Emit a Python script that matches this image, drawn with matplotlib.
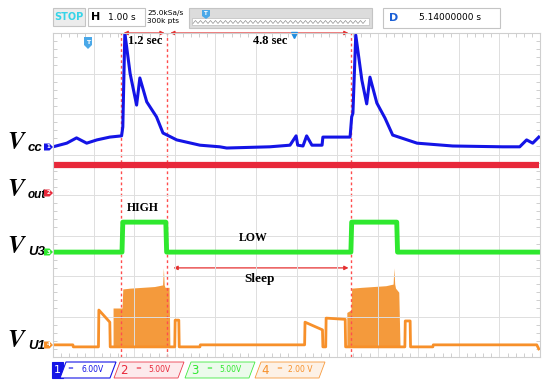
import matplotlib.pyplot as plt
from matplotlib.patches import Rectangle, Polygon, FancyArrowPatch
import numpy as np

# time in s (1 s/div, 12 div); levels in screen divisions (0..8)
vcc_t = [0, 0.34, 0.58, 0.83, 1.08, 1.40, 1.69, 1.72, 1.77, 1.90, 2.06, 2.14, 2.31, 2.55,
         2.71, 3.05, 3.62, 4.11, 4.28, 5.34, 5.84, 5.99, 6.03, 6.16, 6.25, 6.38, 6.63, 6.65,
         7.32, 7.36, 7.39, 7.46, 7.61, 7.73, 7.81, 7.98, 8.18, 8.37, 8.97, 9.85, 11.08, 11.50,
         11.67, 11.82, 11.97]
vcc_v = [5.19, 5.28, 5.41, 5.28, 5.36, 5.43, 5.46, 5.68, 8.00, 7.00, 6.22, 6.89, 6.30, 5.93,
         5.53, 5.36, 5.23, 5.19, 5.16, 5.19, 5.23, 5.46, 5.23, 5.21, 5.46, 5.23, 5.23, 5.43,
         5.43, 5.93, 6.02, 7.95, 6.84, 6.25, 6.91, 6.27, 5.90, 5.48, 5.28, 5.21, 5.19, 5.19,
         5.36, 5.28, 5.43]

vout_t = [0, 11.97]
vout_v = [4.74, 4.74]

u3_t = [0, 1.70, 1.72, 2.78, 2.80, 7.34, 7.36, 8.47, 8.49, 11.97]
u3_v = [2.59, 2.59, 3.33, 3.33, 2.59, 2.59, 3.33, 3.33, 2.59, 2.59]

u1_t = [0, 0.49, 0.50, 1.12, 1.13, 1.40, 1.41, 1.48, 2.88, 3.00, 3.01, 3.10, 3.11, 3.62,
        3.63, 6.20, 6.21, 6.64, 6.65, 6.72, 6.73, 7.20, 7.21, 8.55, 8.67, 8.68, 8.80, 8.81,
        9.36, 9.37, 11.92, 11.97]
u1_v = [0.30, 0.30, 0.25, 0.25, 1.16, 0.86, 0.25, 0.25, 0.25, 0.25, 0.91, 0.91, 0.25, 0.25,
        0.30, 0.30, 0.86, 0.67, 0.25, 0.25, 0.96, 0.93, 0.25, 0.25, 0.25, 0.89, 0.89, 0.25,
        0.25, 0.30, 0.30, 0.20]

# dense switching bursts on U1
burst1_t = [1.48, 1.70, 1.72, 1.90, 2.20, 2.50, 2.70, 2.72, 2.74, 2.76, 2.86, 2.88]
burst1_top = [1.21, 1.21, 1.68, 1.70, 1.72, 1.74, 1.78, 2.20, 1.78, 1.72, 1.72, 0.30]
burst2_t = [7.24, 7.34, 7.36, 7.60, 7.90, 8.20, 8.38, 8.40, 8.42, 8.44, 8.52, 8.55]
burst2_top = [1.10, 1.16, 1.70, 1.72, 1.74, 1.76, 1.80, 2.20, 1.80, 1.70, 1.60, 0.30]

markers_t = [1.67, 2.82, 7.35]  # red dashed cursors

channels = ['1', '2', '3', '4']
scales = ['6.00V', '5.00V', '5.00V', '2.00 V']
ch_colors = ['#1414e6', '#e8283a', '#2ee82e', '#f7902a']
ch_light = ['#ffffff', '#fde8ea', '#eafbea', '#fdf0e4']

W, H = 550, 387
fig = plt.figure(figsize=(W / 100, H / 100), dpi=100)
fig.patch.set_facecolor('white')

x0, x1, y0, y1 = 53, 540, 33, 357
ax = fig.add_axes([x0 / W, 1 - y1 / H, (x1 - x0) / W, (y1 - y0) / H])
ax.set_xlim(0, 12)
ax.set_ylim(0, 8)
ax.set_xticks(np.arange(0, 13, 1))
ax.set_yticks(np.arange(0, 9, 1))
ax.set_xticks(np.arange(0, 12.01, 0.2), minor=True)
ax.set_yticks(np.arange(0, 8.01, 0.2), minor=True)
ax.tick_params(which='both', direction='in', top=True, right=True, labelbottom=False,
               labelleft=False, color='#c8c8c8')
ax.tick_params(which='major', length=0)
ax.tick_params(which='minor', length=3, width=0.6)
ax.grid(True, color='#dedede', lw=0.7)
for s in ax.spines.values():
    s.set_color('#cfcfcf')

for t in markers_t:
    ax.axvline(t, color='#ff4d4d', ls=(0, (2, 2)), lw=1.0, zorder=1.5)

ax.plot(vout_t, vout_v, color=ch_colors[1], lw=4.5, solid_capstyle='butt')
ax.plot(vcc_t, vcc_v, color=ch_colors[0], lw=2.2)
ax.plot(u3_t, u3_v, color=ch_colors[2], lw=3.5)
ax.fill_between(burst1_t, 0.25, burst1_top, color='#f49a3c', lw=0)
ax.fill_between(burst2_t, 0.25, burst2_top, color='#f49a3c', lw=0)
ax.plot(u1_t, u1_v, color=ch_colors[3], lw=2)

def dbl_arrow(a, b, y):
    ax.add_patch(FancyArrowPatch((a, y), (b, y), arrowstyle='<|-|>', mutation_scale=6,
                                 color='#e53030', lw=0.9, clip_on=False))

dbl_arrow(markers_t[0], markers_t[1], 8.0)
dbl_arrow(markers_t[1], markers_t[2], 8.0)
ax.add_patch(FancyArrowPatch((2.90, 2.2), (7.35, 2.2), arrowstyle='<|-|>', mutation_scale=6,
                             color='#e53030', lw=0.9))

serif = 'Liberation Serif'
ax.text(2.27, 7.8, '1.2 sec', family=serif, fontweight='bold', fontsize=9, ha='center', va='center')
ax.text(5.34, 7.8, '4.8 sec', family=serif, fontweight='bold', fontsize=9, ha='center', va='center')
ax.text(2.22, 3.68, 'HIGH', family=serif, fontweight='bold', fontsize=8.5, ha='center', va='center')
ax.text(4.93, 2.94, 'LOW', family=serif, fontweight='bold', fontsize=8.5, ha='center', va='center')
ax.text(5.10, 1.93, 'Sleep', family=serif, fontweight='bold', fontsize=9.5, ha='center', va='center')

ax.plot([5.94], [7.95], marker='v', color='#1f8de0', ms=5, clip_on=False)

# overlay in pixel coordinates for the scope frame
ov = fig.add_axes([0, 0, 1, 1])
ov.set_xlim(0, W)
ov.set_ylim(H, 0)
ov.axis('off')
ov.patch.set_alpha(0)

# trigger marker
ov.add_patch(Polygon([(84, 37), (92, 37), (92, 45), (88, 49), (84, 45)], fc='#4aa8e8', ec='none'))
ov.text(88, 42, 'T', color='white', fontsize=4.5, fontweight='bold', ha='center', va='center')

# toolbar
ov.add_patch(Rectangle((53, 8), 32, 18, fc='#ececec', ec='#c4c4c4', lw=0.8))
ov.text(69, 17.5, 'STOP', color='#35d4e8', fontsize=7, fontweight='bold', ha='center', va='center')
ov.add_patch(Rectangle((88, 8), 57, 18, fc='white', ec='#c4c4c4', lw=0.8))
ov.text(96, 17.5, 'H', fontsize=8, fontweight='bold', ha='center', va='center')
ov.text(122, 17.5, '1.00 s', fontsize=6.5, ha='center', va='center')
ov.text(147, 12.5, '25.0kSa/s', fontsize=5.3, va='center')
ov.text(147, 21.5, '300k pts', fontsize=5.3, va='center')
ov.add_patch(Rectangle((189, 8), 183, 20, fc='#dcdcdc', ec='#c4c4c4', lw=0.8))
ov.add_patch(Rectangle((192, 18), 177, 7, fc='white', ec='#bdbdbd', lw=0.5))
zx = np.arange(193, 368, 2.5)
zy = np.where(np.arange(len(zx)) % 2 == 0, 23.5, 20.5)
ov.plot(zx, zy, color='#909090', lw=0.5)
ov.add_patch(Polygon([(202, 10), (210, 10), (210, 16), (206, 19), (202, 16)], fc='#4aa8e8', ec='none'))
ov.text(206, 13.5, 'T', color='white', fontsize=4, fontweight='bold', ha='center', va='center')
ov.add_patch(Rectangle((383, 8), 117, 20, fc='white', ec='#c4c4c4', lw=0.8))
ov.text(394, 18, 'D', color='#1a5fd6', fontsize=8, fontweight='bold', ha='center', va='center')
ov.text(450, 18, '5.14000000 s', fontsize=6.5, ha='center', va='center')

# channel labels on the left
labels = [('cc', 142, 147), ('out', 189, 193), ('U3', 246, 252), ('U1', 340, 345)]
for i, (sub, ly, ty) in enumerate(labels):
    ov.text(7, ly, r'$\mathbfit{V}$', math_fontfamily='stix', fontsize=18,
            va='center', ha='left')
    ov.text(28, ly + 6, sub, family='Liberation Sans', style='italic', fontweight='bold',
            fontsize=8.5 if sub == 'out' else 9.5, va='center', ha='left')
    c = ch_colors[i]
    ov.add_patch(Polygon([(44, ty - 3.5), (49.5, ty - 3.5), (53, ty), (49.5, ty + 3.5), (44, ty + 3.5)],
                         fc=c, ec='none', zorder=5))
    ov.text(48.5, ty, channels[i], color='white', fontsize=4, fontweight='bold',
            ha='center', va='center', zorder=6)

# channel scale legend at the bottom
lx = [52, 114, 185, 255]
for i in range(4):
    c = ch_colors[i]
    xs = lx[i]
    if i == 0:
        ov.add_patch(Rectangle((xs, 362), 11, 16, fc=c, ec=c, lw=0.8))
        ov.text(xs + 5.5, 370, '1', color='white', fontsize=8, ha='center', va='center')
        ov.add_patch(Polygon([(66, 362), (116, 362), (110, 378), (60, 378)], fc='white', ec=c, lw=0.8))
        ov.text(70, 368, '=', color=c, fontsize=5, ha='center', va='center')
        ov.text(93, 370, scales[0], color=c, fontsize=5.5, ha='center', va='center')
    else:
        ov.add_patch(Polygon([(xs + 6, 362), (xs + 70, 362), (xs + 64, 378), (xs, 378)],
                             fc=ch_light[i], ec=c, lw=0.6, alpha=0.9))
        ov.text(xs + 10, 370, channels[i], color=c, fontsize=8.5, ha='center', va='center')
        ov.text(xs + 24, 368, '=', color=c, fontsize=5, ha='center', va='center')
        ov.text(xs + 45, 370, scales[i], color=c, fontsize=5.5, ha='center', va='center')

fig.savefig('out.png', dpi=100)
